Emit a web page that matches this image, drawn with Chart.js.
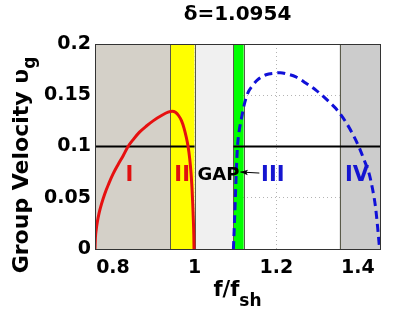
<!DOCTYPE html>
<html>
<head>
<meta charset="utf-8">
<script src="https://cdn.jsdelivr.net/npm/chart.js@4"></script>
<style>
  body { margin: 0; background: #fff; }
</style>
</head>
<body>
<canvas id="myChart" width="419" height="315"></canvas>
<script>
// axis ranges and ticks
const xRange = [0.756, 1.454];
const yRange = [0, 0.2];
const xTicks = [0.8, 1.0, 1.2, 1.4];
const yTicks = [0, 0.05, 0.1, 0.15, 0.2];

// branch I/II (red) and branch III/IV (blue dashed)
const redX = [0.756, 0.757, 0.759, 0.762, 0.766, 0.772, 0.780, 0.790, 0.800, 0.812, 0.825, 0.837, 0.850, 0.865, 0.882, 0.900, 0.920, 0.935, 0.945, 0.953, 0.961, 0.968, 0.974, 0.979, 0.984, 0.988, 0.991, 0.9935, 0.9955, 0.997, 0.998, 0.9985];
const redY = [0, 0.011, 0.019, 0.027, 0.035, 0.044, 0.054, 0.064, 0.073, 0.082, 0.091, 0.100, 0.107, 0.114, 0.120, 0.1255, 0.1305, 0.1335, 0.1345, 0.1335, 0.130, 0.125, 0.118, 0.110, 0.100, 0.088, 0.075, 0.060, 0.043, 0.027, 0.013, 0];
const blueX = [1.095, 1.0975, 1.0998, 1.1025, 1.105, 1.109, 1.114, 1.121, 1.130, 1.141, 1.154, 1.175, 1.195, 1.210, 1.228, 1.248, 1.272, 1.297, 1.329, 1.346, 1.370, 1.386, 1.402, 1.415, 1.427, 1.436, 1.443, 1.448, 1.453];
const blueY = [0, 0.025, 0.050, 0.080, 0.100, 0.115, 0.126, 0.140, 0.152, 0.159, 0.165, 0.170, 0.1715, 0.172, 0.1705, 0.168, 0.162, 0.155, 0.1437, 0.137, 0.124, 0.113, 0.100, 0.087, 0.074, 0.058, 0.041, 0.022, 0];

// reference level line (drawn except across the gap)
const refLevel = 0.1;
const refStart = [0.756, 1.095];
const refEnd = [1.0, 1.454];

// shaded frequency bands
const bandEdges = [0.756, 0.94, 1.0, 1.095, 1.12, 1.355, 1.454];
const bandColors = ['#d4d0c8', '#ffff00', '#f0f0f0', '#00ff00', null, '#cccccc'];

// region labels
const regionNames = ['I', 'II', 'GAP', 'III', 'IV'];
const regionX = [0.840, 0.9695, 1.0585, 1.1915, 1.3976];
const regionY = [0.072, 0.072, 0.072, 0.072, 0.072];
const arrowFrom = [1.1585, 0.0741];
const arrowTo = [1.112, 0.0751];

const FONT = "'DejaVu Sans', 'Liberation Sans', sans-serif";

function pts(xs, ys) {
    return xs.map((v, i) => ({ x: v, y: ys[i] }));
}

const bandsPlugin = {
    id: 'bands',
    beforeDatasetsDraw(chart) {
        const { ctx, chartArea: a, scales: { x } } = chart;
        ctx.save();
        for (let i = 0; i < bandColors.length; i++) {
            if (!bandColors[i]) continue;
            const x0 = x.getPixelForValue(bandEdges[i]);
            const x1 = x.getPixelForValue(bandEdges[i + 1]);
            ctx.fillStyle = bandColors[i];
            ctx.fillRect(x0, a.top, x1 - x0, a.bottom - a.top);
        }
        ctx.strokeStyle = '#5a5a4a';
        ctx.lineWidth = 1;
        for (let i = 1; i < bandEdges.length - 1; i++) {
            const px = Math.round(x.getPixelForValue(bandEdges[i])) + 0.5;
            ctx.beginPath();
            ctx.moveTo(px, a.top);
            ctx.lineTo(px, a.bottom);
            ctx.stroke();
        }
        ctx.restore();
    },
    afterDatasetsDraw(chart) {
        const { ctx, chartArea: a, scales: { x, y } } = chart;
        ctx.save();
        // frame
        ctx.strokeStyle = '#333';
        ctx.lineWidth = 1;
        ctx.strokeRect(Math.round(a.left) + 0.5, Math.round(a.top) + 0.5, Math.round(a.right - a.left), Math.round(a.bottom - a.top));

        // labels
        ctx.textAlign = 'center';
        ctx.textBaseline = 'middle';
        const colors = ['#e01010', '#e01010', '#000', '#1515d0', '#1515d0'];
        const sizes = [21, 21, 18, 21, 21];
        regionNames.forEach((t, i) => {
            ctx.fillStyle = colors[i];
            ctx.font = 'bold ' + sizes[i] + 'px ' + FONT;
            ctx.fillText(t, x.getPixelForValue(regionX[i]), y.getPixelForValue(regionY[i]));
        });

        // arrow
        const fx = x.getPixelForValue(arrowFrom[0]), fy = y.getPixelForValue(arrowFrom[1]);
        const tx = x.getPixelForValue(arrowTo[0]), ty = y.getPixelForValue(arrowTo[1]);
        ctx.strokeStyle = '#000';
        ctx.beginPath();
        ctx.moveTo(fx, fy);
        ctx.lineTo(tx, ty);
        ctx.stroke();
        const ang = Math.atan2(ty - fy, tx - fx);
        ctx.fillStyle = '#000';
        ctx.beginPath();
        ctx.moveTo(tx, ty);
        ctx.lineTo(tx - 8 * Math.cos(ang - 0.35), ty - 8 * Math.sin(ang - 0.35));
        ctx.lineTo(tx - 6 * Math.cos(ang), ty - 6 * Math.sin(ang));
        ctx.lineTo(tx - 8 * Math.cos(ang + 0.35), ty - 8 * Math.sin(ang + 0.35));
        ctx.closePath();
        ctx.fill();
        ctx.restore();
    },
    afterDraw(chart) {
        const { ctx, chartArea: a } = chart;
        ctx.save();
        ctx.fillStyle = '#000';
        // title
        ctx.font = 'bold 20px ' + FONT;
        ctx.textAlign = 'center';
        ctx.textBaseline = 'middle';
        ctx.fillText('\u03b4=1.0954', (a.left + a.right) / 2, 15);

        // x axis title  f/f_sh
        ctx.textAlign = 'left';
        ctx.textBaseline = 'alphabetic';
        ctx.font = 'bold 21px ' + FONT;
        const main = 'f/f';
        const wMain = ctx.measureText(main).width;
        ctx.font = 'bold 17px ' + FONT;
        const wSub = ctx.measureText('sh').width;
        let sx = (a.left + a.right) / 2 - (wMain + wSub) / 2;
        ctx.font = 'bold 21px ' + FONT;
        ctx.fillText(main, sx, 296);
        ctx.font = 'bold 17px ' + FONT;
        ctx.fillText('sh', sx + wMain, 306);

        // y axis title  Group Velocity υ_g
        ctx.translate(28, 165);
        ctx.rotate(-Math.PI / 2);
        ctx.font = 'bold 22px ' + FONT;
        const yMain = 'Group Velocity \u03c5';
        const wy = ctx.measureText(yMain).width;
        ctx.font = 'bold 17px ' + FONT;
        const wg = ctx.measureText('g').width;
        const sy = -(wy + wg) / 2;
        ctx.font = 'bold 22px ' + FONT;
        ctx.fillText(yMain, sy, 0);
        ctx.font = 'bold 17px ' + FONT;
        ctx.fillText('g', sy + wy, 7);
        ctx.restore();
    }
};

const ctx = document.getElementById('myChart');
new Chart(ctx, {
    type: 'scatter',
    data: {
        datasets: [
            {
                data: pts(redX, redY),
                showLine: true,
                borderColor: '#e61010',
                borderWidth: 3,
                pointRadius: 0,
                cubicInterpolationMode: 'monotone'
            },
            {
                data: pts(blueX, blueY),
                showLine: true,
                borderColor: '#1010d8',
                borderWidth: 3,
                borderDash: [8, 5],
                pointRadius: 0,
                cubicInterpolationMode: 'monotone'
            },
            {
                data: [{ x: refStart[0], y: refLevel }, { x: refEnd[0], y: refLevel }],
                showLine: true,
                borderColor: '#000',
                borderWidth: 2,
                pointRadius: 0
            },
            {
                data: [{ x: refStart[1], y: refLevel }, { x: refEnd[1], y: refLevel }],
                showLine: true,
                borderColor: '#000',
                borderWidth: 2,
                pointRadius: 0
            }
        ]
    },
    options: {
        responsive: false,
        animation: false,
        devicePixelRatio: 1,
        layout: { padding: { left: 0, top: 44, right: 39, bottom: 0 } },
        plugins: {
            legend: { display: false },
            tooltip: { enabled: false }
        },
        scales: {
            x: {
                type: 'linear',
                min: xRange[0],
                max: xRange[1],
                afterBuildTicks: (s) => { s.ticks = xTicks.map(v => ({ value: v })); },
                afterFit: (s) => { s.height = 66; },
                ticks: {
                    color: '#000',
                    padding: 8,
                    font: { family: FONT, size: 19, weight: 'bold' },
                    callback: (v) => String(v)
                },
                grid: { color: '#b4b4b4', drawTicks: false },
                border: { display: false, dash: [1, 3] }
            },
            y: {
                type: 'linear',
                min: yRange[0],
                max: yRange[1],
                afterBuildTicks: (s) => { s.ticks = yTicks.map(v => ({ value: v })); },
                afterFit: (s) => { s.width = 95; },
                ticks: {
                    color: '#000',
                    padding: 4,
                    font: { family: FONT, size: 19, weight: 'bold' },
                    callback: (v) => String(v)
                },
                grid: { color: '#b4b4b4', drawTicks: false },
                border: { display: false, dash: [1, 3] }
            }
        }
    },
    plugins: [bandsPlugin]
});
</script>
</body>
</html>
